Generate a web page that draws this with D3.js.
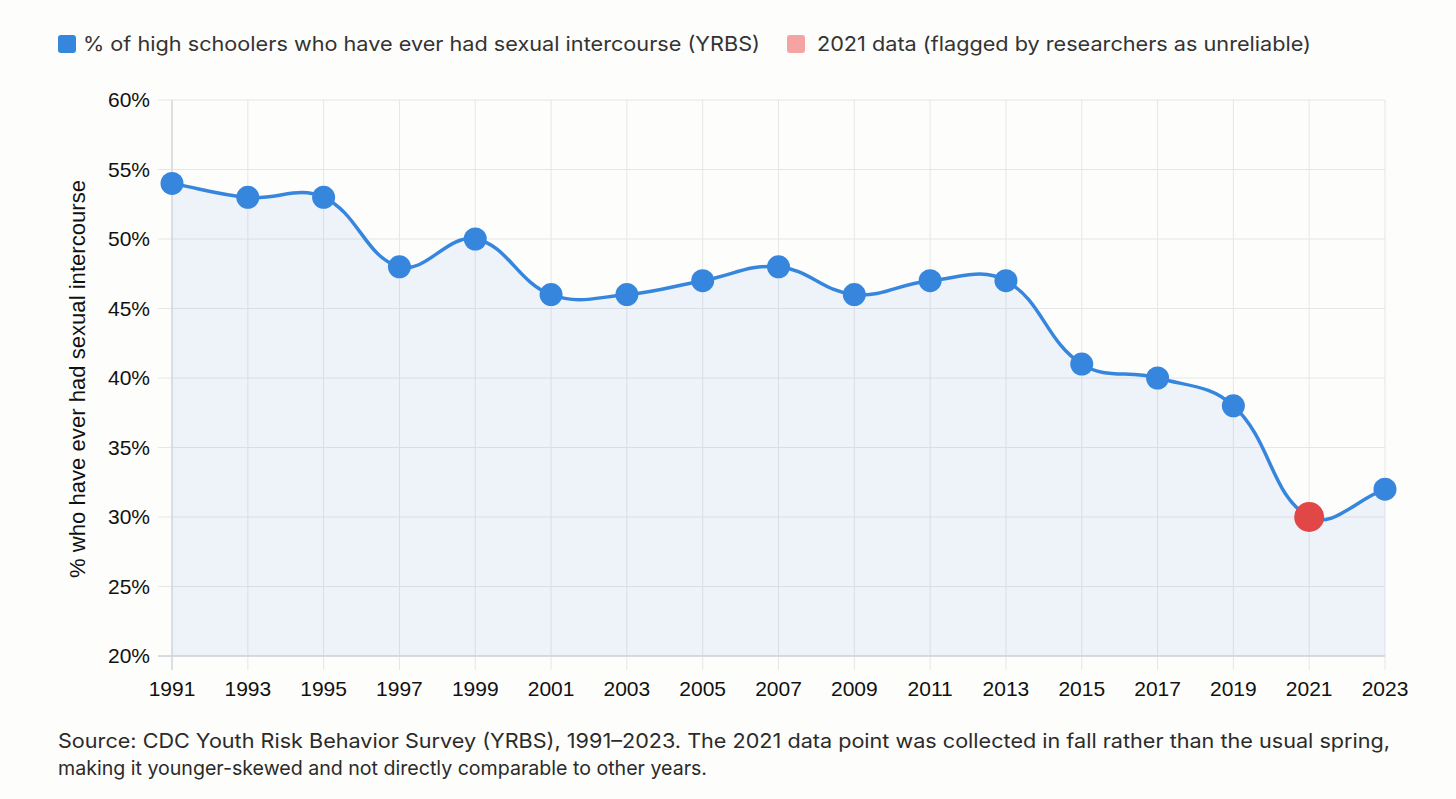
<!DOCTYPE html>
<html><head><meta charset="utf-8">
<script src="https://cdn.jsdelivr.net/npm/d3@7"></script>
<style>
html,body{margin:0;padding:0;background:#fdfdfb;}
svg{display:block;}
</style></head>
<body>
<svg id="chart" width="1456" height="799"></svg>
<script>
const years = [1991,1993,1995,1997,1999,2001,2003,2005,2007,2009,2011,2013,2015,2017,2019,2021,2023];
const values = [54,53,53,48,50,46,46,47,48,46,47,47,41,40,38,30,32];
const flaggedYears = [2021];
const yTicks = [20,25,30,35,40,45,50,55,60];
const legendLabels = ["% of high schoolers who have ever had sexual intercourse (YRBS)", "2021 data (flagged by researchers as unreliable)"];
const yTitle = "% who have ever had sexual intercourse";
const footnote = ["Source: CDC Youth Risk Behavior Survey (YRBS), 1991–2023. The 2021 data point was collected in fall rather than the usual spring,",
  "making it younger-skewed and not directly comparable to other years."];

(function(){
const blue = "#3686de", red = "#e24747";
const svg = d3.select("#chart");
const pL = 172, pR = 1385, pT = 100, pB = 656;
const x = d3.scalePoint().domain(years).range([pL, pR]);
const y = d3.scaleLinear().domain([20, 60]).range([pB, pT]);
const tickFont = "'Liberation Sans', Arial, sans-serif";
const textFont = "Inter, 'Open Sans', sans-serif";

// grid
const g = svg.append("g");
g.selectAll("line.hg").data(yTicks).join("line")
  .attr("x1", pL - 14).attr("x2", pR).attr("y1", d => y(d)).attr("y2", d => y(d))
  .attr("stroke", "#e6e6e6").attr("stroke-width", 1);
g.selectAll("line.vg").data(years).join("line")
  .attr("y1", pT).attr("y2", pB + 14).attr("x1", d => x(d)).attr("x2", d => x(d))
  .attr("stroke", "#e6e6e6").attr("stroke-width", 1);

// Chart.js-like spline (tension 0.4)
const pts = years.map((yr, i) => ({x: x(yr), y: y(values[i])}));
const t = 0.4;
pts.forEach((p, i) => {
  const prev = pts[i-1] || p, next = pts[i+1] || p;
  const d01 = Math.hypot(p.x - prev.x, p.y - prev.y);
  const d12 = Math.hypot(next.x - p.x, next.y - p.y);
  let s01 = d01 / (d01 + d12), s12 = d12 / (d01 + d12);
  if (isNaN(s01)) s01 = 0; if (isNaN(s12)) s12 = 0;
  const fa = t * s01, fb = t * s12;
  p.cpPrev = {x: p.x - fa * (next.x - prev.x), y: p.y - fa * (next.y - prev.y)};
  p.cpNext = {x: p.x + fb * (next.x - prev.x), y: p.y + fb * (next.y - prev.y)};
});
function buildPath(path) {
  path.moveTo(pts[0].x, pts[0].y);
  for (let i = 1; i < pts.length; i++) {
    const a = pts[i-1], b = pts[i];
    path.bezierCurveTo(a.cpNext.x, a.cpNext.y, b.cpPrev.x, b.cpPrev.y, b.x, b.y);
  }
  return path;
}
const areaPath = buildPath(d3.path());
areaPath.lineTo(pts[pts.length-1].x, y(20));
areaPath.lineTo(pts[0].x, y(20));
areaPath.closePath();
svg.append("path").attr("d", areaPath.toString()).attr("fill", "rgba(60,110,235,0.08)");

// axes lines
svg.append("line").attr("x1", pL).attr("x2", pL).attr("y1", pT).attr("y2", pB + 14).attr("stroke", "#cfd3d8").attr("stroke-width", 1.2);
svg.append("line").attr("x1", pL - 14).attr("x2", pR).attr("y1", pB).attr("y2", pB).attr("stroke", "#cfd3d8").attr("stroke-width", 1.5);

svg.append("path").attr("d", buildPath(d3.path()).toString())
  .attr("fill", "none").attr("stroke", blue).attr("stroke-width", 3.5);

// points
svg.selectAll("circle.pt").data(years.map((yr, i) => ({yr, v: values[i]}))).join("circle")
  .attr("cx", d => x(d.yr)).attr("cy", d => y(d.v))
  .attr("r", d => flaggedYears.includes(d.yr) ? 15 : 11.5)
  .attr("fill", d => flaggedYears.includes(d.yr) ? red : blue);

// tick labels
svg.selectAll("text.yt").data(yTicks).join("text")
  .attr("x", 150).attr("y", d => y(d)).attr("dy", "0.35em").attr("text-anchor", "end")
  .attr("font-family", tickFont).attr("font-size", 21).attr("fill", "#111")
  .text(d => d + "%");
svg.selectAll("text.xt").data(years).join("text")
  .attr("x", d => x(d)).attr("y", 689).attr("dy", "0.35em").attr("text-anchor", "middle")
  .attr("font-family", tickFont).attr("font-size", 21).attr("fill", "#111")
  .text(d => d);

// y title
svg.append("text").attr("transform", "translate(85,379) rotate(-90)")
  .attr("text-anchor", "middle").attr("font-family", tickFont).attr("font-size", 21.5).attr("fill", "#111")
  .attr("textLength", 398).attr("lengthAdjust", "spacingAndGlyphs")
  .text(yTitle);

// legend
const legend = [{c: blue, x: 58, tx: 83, w: 677}, {c: "#f4a4a2", x: 787, tx: 817, w: 494}];
legend.forEach((l, i) => {
  svg.append("rect").attr("x", l.x).attr("y", 35).attr("width", 18).attr("height", 18).attr("rx", 3).attr("fill", l.c);
  svg.append("text").attr("x", l.tx).attr("y", 51).attr("font-family", textFont).attr("font-size", 20)
    .attr("fill", "#333").attr("textLength", l.w).attr("lengthAdjust", "spacingAndGlyphs").text(legendLabels[i]);
});

// footnote
const fw = [1332, 649];
footnote.forEach((s, i) => {
  svg.append("text").attr("x", 58).attr("y", 748 + i * 27).attr("font-family", textFont).attr("font-size", 20)
    .attr("fill", "#2b2b2b").attr("textLength", fw[i]).attr("lengthAdjust", "spacingAndGlyphs").text(s);
});
})();
</script>
</body></html>
